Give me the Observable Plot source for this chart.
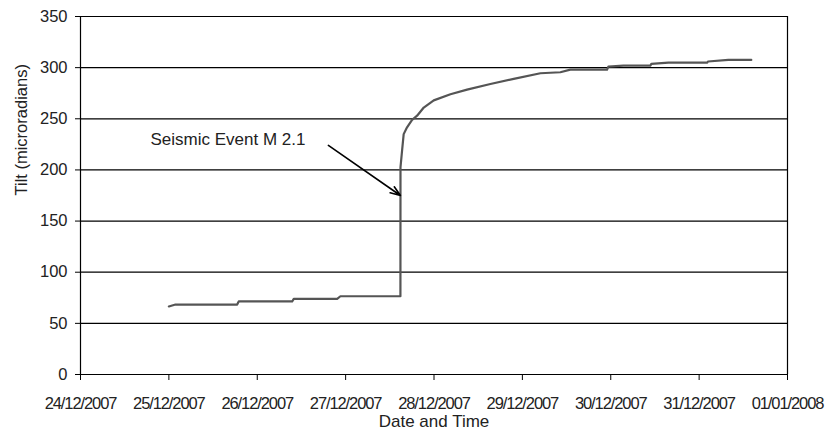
<!DOCTYPE html>
<html>
<head>
<meta charset="utf-8">
<script src="https://cdn.jsdelivr.net/npm/d3@7"></script>
<script src="https://cdn.jsdelivr.net/npm/@observablehq/plot@0.6"></script>
<style>
  html, body { margin: 0; padding: 0; background: #fff; }
  #chart { width: 830px; height: 439px; }
</style>
</head>
<body>
<div id="chart"></div>
<script>
// Tilt record (UTC times) and values
const times = [
  "2007-12-25T00:00", "2007-12-25T01:48", "2007-12-25T18:33", "2007-12-25T18:58",
  "2007-12-26T09:29", "2007-12-26T09:55", "2007-12-26T21:42", "2007-12-26T22:35",
  "2007-12-27T14:53", "2007-12-27T14:54", "2007-12-27T15:20", "2007-12-27T15:46",
  "2007-12-27T16:41", "2007-12-27T18:03", "2007-12-27T19:25", "2007-12-27T21:13",
  "2007-12-27T23:56", "2007-12-28T04:28", "2007-12-28T08:59", "2007-12-28T15:19",
  "2007-12-28T21:39", "2007-12-29T04:54", "2007-12-29T10:19", "2007-12-29T13:02",
  "2007-12-29T22:59", "2007-12-29T23:21", "2007-12-30T03:26", "2007-12-30T10:45",
  "2007-12-30T11:02", "2007-12-30T15:39", "2007-12-31T02:14", "2007-12-31T02:24",
  "2007-12-31T07:55", "2007-12-31T14:10"
];
const tilt = [
  66.5, 68.4, 68.4, 71.4,
  71.4, 74.0, 74.0, 76.5,
  76.5, 202.6, 219, 235,
  241.7, 249, 253, 261,
  268, 274, 278.5, 284,
  289, 294.5, 295.5, 298,
  298, 301, 302, 302,
  303.7, 305, 305, 306,
  307.5, 307.5
];

const xTickLabels = ["2007-12-24", "2007-12-25", "2007-12-26", "2007-12-27", "2007-12-28",
                     "2007-12-29", "2007-12-30", "2007-12-31", "2008-01-01"];
const yTicks = [0, 50, 100, 150, 200, 250, 300, 350];

const annotationText = ["Seismic Event M 2.1"];
const annotationAt = ["2007-12-24T19:01", 229.7];
const arrowFrom = ["2007-12-26T19:19", 224];
const arrowTo = ["2007-12-27T14:53", 175];

const xTitle = "Date and Time";
const yTitle = "Tilt (microradians)";

const parse = s => new Date(s + (s.length > 10 ? "Z" : "T00:00Z"));
const series = times.map((t, i) => ({date: parse(t), value: tilt[i]}));
const xTickDates = xTickLabels.map(parse);
const fmt = d3.utcFormat("%d/%m/%Y");
const font = "'Liberation Sans', Arial, Helvetica, sans-serif";

const chart = Plot.plot({
  width: 830,
  height: 439,
  marginLeft: 80,
  marginRight: 43,
  marginTop: 16,
  marginBottom: 65,
  style: {fontFamily: font, background: "#fff", color: "#000", overflow: "visible"},
  x: {type: "utc", domain: [xTickDates[0], xTickDates[xTickDates.length - 1]], axis: null},
  y: {domain: [0, 350], axis: null},
  marks: [
    Plot.ruleY(yTicks.filter(v => v > 0), {stroke: "#000", strokeWidth: 1.2}),
    Plot.axisY({ticks: yTicks, tickSize: 5, tickPadding: 8, fontSize: 16.5, label: null, tickFormat: d => String(d), fill: "#222"}),
    Plot.axisX({ticks: xTickDates, tickSize: 6, tickPadding: 17, fontSize: 16.5, label: null, tickFormat: fmt, fill: "#222"}),
    Plot.ruleX([xTickDates[0]], {stroke: "#000", strokeWidth: 1.2}),
    Plot.ruleX([xTickDates[xTickDates.length - 1]], {stroke: "#000", strokeWidth: 1.2}),
    Plot.ruleY([0], {stroke: "#000", strokeWidth: 1.2}),
    Plot.line(series, {x: "date", y: "value", stroke: "#555", strokeWidth: 2.2, curve: "linear"}),
    Plot.arrow([{x1: parse(arrowFrom[0]), y1: arrowFrom[1], x2: parse(arrowTo[0]), y2: arrowTo[1]}],
      {x1: "x1", y1: "y1", x2: "x2", y2: "y2", stroke: "#000", strokeWidth: 1.6, headLength: 10, headAngle: 40}),
    Plot.text(annotationText, {x: () => parse(annotationAt[0]), y: () => annotationAt[1], text: d => d,
      textAnchor: "start", fontSize: 17, fill: "#222"}),
    Plot.text([yTitle], {frameAnchor: "left", dx: -59, rotate: -90, fontSize: 16.5, fill: "#222"}),
    Plot.text([xTitle], {frameAnchor: "bottom", dy: 52, fontSize: 17, fill: "#222"})
  ]
});

d3.select(chart).selectAll('g[aria-label="x-axis tick label"] text').style("letter-spacing", "-1.1px");
document.getElementById("chart").appendChild(chart);
</script>
</body>
</html>
